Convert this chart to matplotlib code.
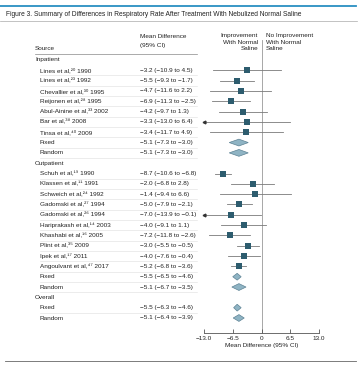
import matplotlib
matplotlib.use("Agg")
import matplotlib.pyplot as plt
from matplotlib.lines import Line2D

plt.rcParams['font.family'] = ['Liberation Sans Narrow', 'Liberation Sans', 'DejaVu Sans']

title = "Figure 3. Summary of Differences in Respiratory Rate After Treatment With Nebulized Normal Saline"

inpatient_names = ["Lines et al,²⁰ 1990", "Lines et al,²³ 1992", "Chevallier et al,³⁰ 1995",
                   "Reijonen et al,²⁸ 1995", "Abul-Ainine et al,³³ 2002", "Bar et al,³⁸ 2008",
                   "Tinsa et al,⁴⁰ 2009"]
inpatient_md = [-3.2, -5.5, -4.7, -6.9, -4.2, -3.3, -3.4]
inpatient_lo = [-10.9, -9.3, -11.6, -11.3, -9.7, -13.0, -11.7]
inpatient_hi = [4.5, -1.7, 2.2, -2.5, 1.3, 6.4, 4.9]
inpatient_pooled = {"Fixed": (-5.1, -7.3, -3.0), "Random": (-5.1, -7.3, -3.0)}

outpatient_names = ["Schuh et al,¹⁹ 1990", "Klassen et al,¹¹ 1991", "Schweich et al,²⁴ 1992",
                    "Gadomski et al,²⁷ 1994", "Gadomski et al,²⁶ 1994", "Hariprakash et al,¹⁴ 2003",
                    "Khashabi et al,¹⁶ 2005", "Plint et al,³⁵ 2009", "Ipek et al,¹⁷ 2011",
                    "Angoulvant et al,⁴⁷ 2017"]
outpatient_md = [-8.7, -2.0, -1.4, -5.0, -7.0, -4.0, -7.2, -3.0, -4.0, -5.2]
outpatient_lo = [-10.6, -6.8, -9.4, -7.9, -13.9, -9.1, -11.8, -5.5, -7.6, -6.8]
outpatient_hi = [-6.8, 2.8, 6.6, -2.1, -0.1, 1.1, -2.6, -0.5, -0.4, -3.6]
outpatient_pooled = {"Fixed": (-5.5, -6.5, -4.6), "Random": (-5.1, -6.7, -3.5)}

overall_pooled = {"Fixed": (-5.5, -6.3, -4.6), "Random": (-5.1, -6.4, -3.9)}

x_ticks = [-13.0, -6.5, 0, 6.5, 13.0]
x_tick_labels = ["−13.0", "−6.5", "0", "6.5", "13.0"]

# ---- build rows ----
rows = []  # (kind, label, md, lo, hi)
rows.append(("header", "Inpatient", None, None, None))
for n, m, l, h in zip(inpatient_names, inpatient_md, inpatient_lo, inpatient_hi):
    rows.append(("study", n, m, l, h))
for k, v in inpatient_pooled.items():
    rows.append(("pooled", k, *v))
rows.append(("header", "Outpatient", None, None, None))
for n, m, l, h in zip(outpatient_names, outpatient_md, outpatient_lo, outpatient_hi):
    rows.append(("study", n, m, l, h))
for k, v in outpatient_pooled.items():
    rows.append(("pooled", k, *v))
rows.append(("header", "Overall", None, None, None))
for k, v in overall_pooled.items():
    rows.append(("pooled", k, *v))

W, H = 360, 367
fig = plt.figure(figsize=(W / 100, H / 100), dpi=100)
bg = fig.add_axes([0, 0, 1, 1])
bg.set_xlim(0, W)
bg.set_ylim(H, 0)
bg.axis("off")

row0, dy = 60.0, 10.32
def ypix(i):
    return row0 + dy * i

fs = 4.6
tc = "#222222"
# top decorations
bg.add_line(Line2D([0, 356], [5.5, 5.5], color="#2a8fc1", lw=1.3))
bg.text(6, 15, title, fontsize=4.8, va="center", ha="left", color=tc)
bg.add_line(Line2D([0, 357], [21, 21], color="#aaaaaa", lw=0.5))

# column headers
bg.text(35, 49, "Source", fontsize=fs, va="center", ha="left", color=tc)
bg.text(140, 37, "Mean Difference", fontsize=fs, va="center", ha="left", color=tc)
bg.text(140, 46, "(95% CI)", fontsize=fs, va="center", ha="left", color=tc)
bg.text(258, 42, "Improvement\nWith Normal\nSaline", fontsize=fs, va="center", ha="right",
        linespacing=1.25, color=tc)
bg.text(266, 42, "No Improvement\nWith Normal\nSaline", fontsize=fs, va="center", ha="left",
        linespacing=1.25, color=tc)
bg.add_line(Line2D([35, 197], [54, 54], color="#888888", lw=0.5))

for i, (kind, label, m, l, h) in enumerate(rows):
    y = ypix(i)
    if kind == "header":
        bg.text(35, y, label, fontsize=fs, va="center", ha="left", color=tc)
    else:
        bg.text(40, y, label, fontsize=fs, va="center", ha="left", color=tc)
        bg.text(140, y, f"{m:.1f} ({l:.1f} to {h:.1f})".replace("-", "\u2212"),
                fontsize=fs, va="center", ha="left", color=tc)
        if i + 1 < len(rows):
            bg.add_line(Line2D([40, 197], [y + dy / 2, y + dy / 2], color="#dddddd", lw=0.4))

# bottom line
bg.add_line(Line2D([5, 356], [360.5, 360.5], color="#666666", lw=0.6))

# ---- forest axes ----
xl, xr = 204, 319
ytop, ybot = 40, 333
ax = fig.add_axes([xl / W, 1 - ybot / H, (xr - xl) / W, (ybot - ytop) / H])
ax.set_xlim(-13, 13)
ax.set_ylim((ybot - row0) / dy, (ytop - row0) / dy)
ax.patch.set_alpha(0)
for s in ["top", "right", "left"]:
    ax.spines[s].set_visible(False)
ax.spines["bottom"].set_color("#555555")
ax.spines["bottom"].set_linewidth(0.6)
ax.set_yticks([])
ax.set_xticks(x_ticks)
ax.set_xticklabels(x_tick_labels, fontsize=fs, color=tc)
ax.tick_params(axis="x", direction="in", length=3, width=0.6, color="#555555", pad=2)
ax.set_xlabel("Mean Difference (95% CI)", fontsize=fs, color=tc, labelpad=1.5)
ax.axvline(0, color="#999999", lw=0.6, zorder=0)

sq_color = "#2d5c6e"
dia_fill = "#8fb4c4"
dia_edge = "#5d8294"
for i, (kind, label, m, l, h) in enumerate(rows):
    if kind == "study":
        lo_c = max(l, -13.0)
        ax.plot([lo_c, h], [i, i], color="#7a7a7a", lw=0.6, clip_on=False, zorder=2)
        if l <= -12.95:
            ax.plot([lo_c], [i], marker="<", ms=2, color="#333333", clip_on=False, zorder=3)
        ax.plot([m], [i], marker="s", ms=4.2, color=sq_color, clip_on=False, zorder=4, mew=0)
    elif kind == "pooled":
        hh = 0.33
        ax.fill([l, m, h, m], [i, i - hh, i, i + hh], facecolor=dia_fill, edgecolor=dia_edge,
                lw=0.5, zorder=4, clip_on=False)

fig.savefig("out.png", dpi=100)
